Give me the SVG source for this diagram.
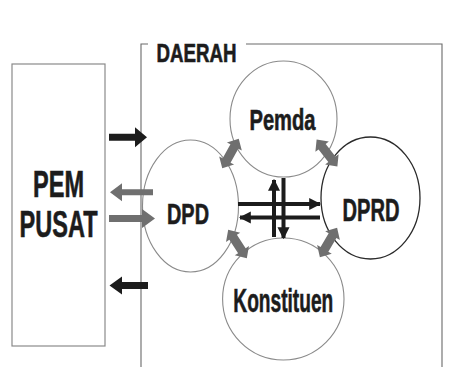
<svg xmlns="http://www.w3.org/2000/svg" width="451" height="367" viewBox="0 0 451 367">
  <style>
    .lbl { font-family: "Liberation Sans Narrow", "Liberation Sans", Arial, sans-serif; font-weight: bold; fill: #1c1c1c; stroke: #1c1c1c; stroke-width: 0.6; text-anchor: middle; }
    .node-gray { fill: #ffffff; stroke: #8a8a8a; stroke-width: 1.1; }
    .node-dark { fill: #ffffff; stroke: #2a2a2a; stroke-width: 1.3; }
    .frame { fill: none; stroke: #6a6a6a; stroke-width: 1.1; }
    .blk { fill: #1c1c1c; }
    .gry { fill: #6f6f6f; }
    .shaft { stroke: #1c1c1c; stroke-width: 4; fill: none; }
  </style>
  <defs>
    <!-- double-headed block arrow, centred on the origin, pointing along x -->
    <path id="dbl" d="M-17,0 L-8,-8.5 L-8,-4.5 L8,-4.5 L8,-8.5 L17,0 L8,8.5 L8,4.5 L-8,4.5 L-8,8.5 Z"/>
    <marker id="tip" viewBox="0 0 10 10" refX="9" refY="5" markerWidth="3" markerHeight="3.2" orient="auto" markerUnits="strokeWidth">
      <path d="M0,0 L10,5 L0,10 Z" fill="#1c1c1c"/>
    </marker>
  </defs>

  <rect width="451" height="367" fill="#ffffff"/>

  <!-- central government block -->
  <g id="pem-pusat">
    <rect x="12" y="64" width="93" height="282" fill="#ffffff" stroke="#8a8a8a" stroke-width="1.2"/>
    <text class="lbl" x="58.5" y="196.5" font-size="37" textLength="51" lengthAdjust="spacingAndGlyphs">PEM</text>
    <text class="lbl" x="58.5" y="236.5" font-size="37" textLength="78" lengthAdjust="spacingAndGlyphs">PUSAT</text>
  </g>

  <!-- regional frame -->
  <g id="daerah">
    <path class="frame" d="M148,44 L141,44 L141,367"/>
    <path class="frame" d="M246,44 L442,44 L442,367"/>
    <text class="lbl" x="196.5" y="61.5" font-size="25" textLength="80" lengthAdjust="spacingAndGlyphs">DAERAH</text>
  </g>

  <g id="pemda">
    <ellipse class="node-gray" cx="283.5" cy="119" rx="53.5" ry="58"/>
    <text class="lbl" x="282.5" y="129.5" font-size="29" textLength="66" lengthAdjust="spacingAndGlyphs">Pemda</text>
  </g>

  <g id="dpd">
    <ellipse class="node-gray" cx="190.5" cy="206" rx="48" ry="66"/>
    <text class="lbl" x="188" y="223.5" font-size="29" textLength="42" lengthAdjust="spacingAndGlyphs">DPD</text>
  </g>

  <g id="dprd">
    <ellipse class="node-dark" cx="370.5" cy="198" rx="49.5" ry="61"/>
    <text class="lbl" x="371" y="221" font-size="31" textLength="57" lengthAdjust="spacingAndGlyphs">DPRD</text>
  </g>

  <g id="konstituen">
    <ellipse class="node-gray" cx="283.3" cy="299" rx="60.7" ry="61"/>
    <text class="lbl" x="283.3" y="312" font-size="34" textLength="100" lengthAdjust="spacingAndGlyphs">Konstituen</text>
  </g>

  <g id="connectors">
    <!-- between central government and the region -->
    <path class="blk" d="M109,133.8 L135,133.8 L135,127.3 L147,137.3 L135,147.3 L135,140.8 L109,140.8 Z"/>
    <path class="gry" d="M110,192.3 L122,183.3 L122,189.3 L153,189.3 L153,195.3 L122,195.3 L122,201.3 Z"/>
    <path class="gry" d="M109,215 L142,215 L142,209 L155,218.5 L142,228 L142,222 L109,222 Z"/>
    <path class="blk" d="M109.5,285.5 L122,276.5 L122,282 L148,282 L148,289 L122,289 L122,294.5 Z"/>

    <!-- two-way links between neighbouring bodies -->
    <use href="#dbl" class="gry" transform="translate(230.5,153.5) rotate(-61)"/>
    <use href="#dbl" class="gry" transform="translate(327,153) rotate(52.4)"/>
    <use href="#dbl" class="gry" transform="translate(237.5,244) rotate(56.8)"/>
    <use href="#dbl" class="gry" transform="translate(328.5,242.5) rotate(-59.6)"/>

    <!-- central cross of arrows -->
    <line class="shaft" x1="238" y1="204" x2="320" y2="204" marker-end="url(#tip)"/>
    <line class="shaft" x1="320" y1="217.5" x2="240" y2="217.5" marker-end="url(#tip)"/>
    <line class="shaft" x1="274" y1="237" x2="274" y2="180" marker-end="url(#tip)"/>
    <line class="shaft" x1="283.5" y1="178" x2="283.5" y2="238" marker-end="url(#tip)"/>
  </g>
</svg>
